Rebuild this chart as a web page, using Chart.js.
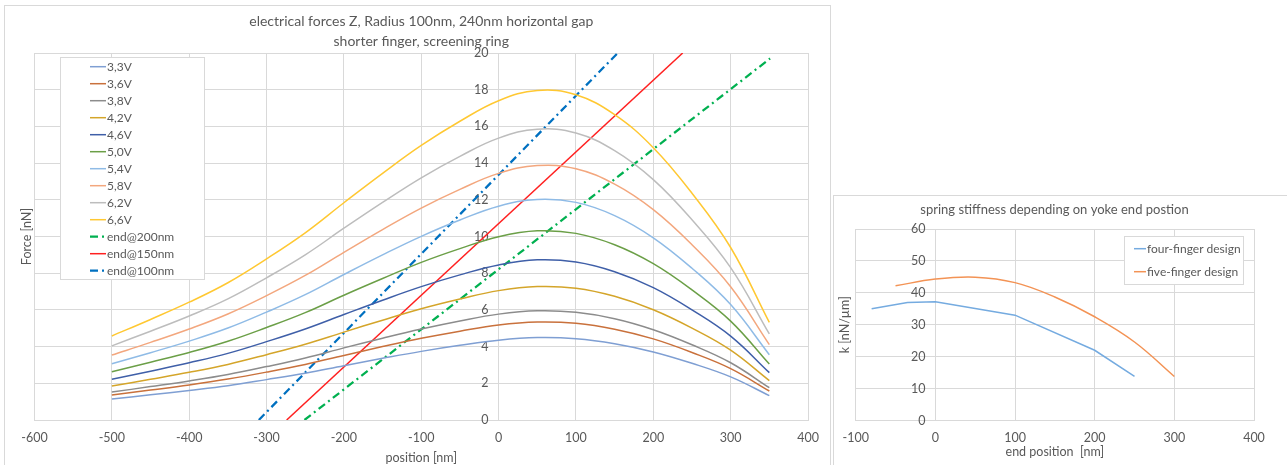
<!DOCTYPE html>
<html>
<head>
<meta charset="utf-8">
<script src="https://cdn.jsdelivr.net/npm/chart.js@4.4.1/dist/chart.umd.min.js"></script>
<style>
  body { margin: 0; background: #fff; width: 1287px; height: 465px; overflow: hidden; position: relative; }
  #frame1 { position: absolute; left: 4px; top: 5px; width: 825px; height: 470px; border: 1px solid #d9d9d9; }
  #frame2 { position: absolute; left: 833px; top: 195px; width: 470px; height: 280px; border: 1px solid #d9d9d9; background: #fff; }
  #c1 { position: absolute; left: 0; top: 0; }
  #c2 { position: absolute; left: 833px; top: 195px; }
</style>
</head>
<body>
<div id="frame1"></div>
<div id="frame2"></div>
<canvas id="c1" width="831" height="465"></canvas>
<canvas id="c2" width="454" height="270"></canvas>
<script>
// left chart: force vs position
const positions = [-500, -450, -400, -350, -300, -250, -200, -150, -100, -50, 0, 50, 100, 150, 200, 250, 300, 350];
const voltageLabels = ['3,3V', '3,6V', '3,8V', '4,2V', '4,6V', '5,0V', '5,4V', '5,8V', '6,2V', '6,6V'];
const force33 = [1.15, 1.37, 1.61, 1.87, 2.20, 2.55, 2.96, 3.36, 3.74, 4.07, 4.35, 4.49, 4.43, 4.16, 3.71, 3.09, 2.35, 1.33];
const force36 = [1.36, 1.63, 1.91, 2.23, 2.61, 3.03, 3.52, 4.00, 4.45, 4.84, 5.18, 5.34, 5.27, 4.95, 4.42, 3.68, 2.80, 1.58];
const force38 = [1.52, 1.82, 2.13, 2.48, 2.91, 3.38, 3.93, 4.46, 4.96, 5.40, 5.77, 5.95, 5.87, 5.52, 4.92, 4.10, 3.12, 1.76];
const force42 = [1.85, 2.22, 2.60, 3.03, 3.56, 4.13, 4.79, 5.44, 6.06, 6.59, 7.05, 7.27, 7.18, 6.74, 6.01, 5.01, 3.81, 2.15];
const force46 = [2.22, 2.66, 3.12, 3.63, 4.27, 4.96, 5.75, 6.53, 7.27, 7.91, 8.45, 8.73, 8.61, 8.08, 7.21, 6.00, 4.57, 2.58];
const force50 = [2.63, 3.15, 3.68, 4.29, 5.04, 5.85, 6.80, 7.71, 8.59, 9.34, 9.99, 10.31, 10.17, 9.55, 8.52, 7.09, 5.39, 3.05];
const force54 = [3.07, 3.67, 4.30, 5.01, 5.88, 6.83, 7.93, 9.00, 10.01, 10.90, 11.65, 12.02, 11.86, 11.14, 9.93, 8.27, 6.29, 3.56];
const force58 = [3.54, 4.23, 4.96, 5.78, 6.78, 7.88, 9.14, 10.38, 11.55, 12.57, 13.44, 13.87, 13.69, 12.85, 11.46, 9.55, 7.26, 4.11];
const force62 = [4.04, 4.84, 5.67, 6.60, 7.75, 9.00, 10.45, 11.86, 13.20, 14.37, 15.36, 15.85, 15.64, 14.68, 13.10, 10.91, 8.30, 4.69];
const force66 = [4.58, 5.48, 6.42, 7.48, 8.78, 10.20, 11.84, 13.44, 14.96, 16.28, 17.40, 17.96, 17.72, 16.64, 14.84, 12.36, 9.40, 5.32];
const forceSeries = [force33, force36, force38, force42, force46, force50, force54, force58, force62, force66];

// spring force lines (two end points each)
const endLabels = ['end@200nm', 'end@150nm', 'end@100nm'];
const end200X = [-251, 351];
const end200Y = [0, 19.7];
const end150X = [-274, 238];
const end150Y = [0, 20];
const end100X = [-310, 154];
const end100Y = [0, 20];

// right chart: stiffness vs end position
const stiffLabels = ['four-finger design', 'five-finger design'];
const fourX = [-80, -35, 0, 100, 200, 250];
const fourK = [35, 37, 37.2, 33, 22, 13.8];
const fiveX = [-50, 0, 50, 100, 150, 200, 250, 300];
const fiveK = [42.2, 44.3, 44.9, 43.2, 38.7, 32.5, 24.6, 13.8];

const voltageColors = ['#7f9fd3', '#c9713c', '#8c8c8c', '#d4a52a', '#3f5fa8', '#6b9f47', '#8fbbe6', '#f3a77e', '#bdbdbd', '#ffc832'];
const textColor = '#595959';
const gridColor = '#d9d9d9';
const fontFamily = 'Lato, "Liberation Sans", sans-serif';

function pts(xs, ys) {
  return xs.map((x, i) => ({ x: x, y: ys[i] }));
}

// legend drawn in a white bordered box
const boxLegend = {
  id: 'boxLegend',
  afterDatasetsDraw(chart, args, o) {
    const ctx = chart.ctx;
    ctx.save();
    ctx.fillStyle = '#fff';
    ctx.fillRect(o.x, o.y, o.w, o.h);
    ctx.strokeStyle = gridColor;
    ctx.lineWidth = 1;
    ctx.strokeRect(o.x + 0.5, o.y + 0.5, o.w, o.h);
    ctx.font = '12px ' + fontFamily;
    ctx.textBaseline = 'middle';
    chart.data.datasets.forEach((ds, i) => {
      const y = o.firstY + i * o.rowGap;
      ctx.strokeStyle = ds.borderColor;
      ctx.lineWidth = ds.borderWidth;
      ctx.setLineDash(ds.borderDash || []);
      ctx.beginPath();
      ctx.moveTo(o.lineX, y);
      ctx.lineTo(o.lineX + o.lineLen, y);
      ctx.stroke();
      ctx.setLineDash([]);
      ctx.fillStyle = textColor;
      ctx.fillText(ds.label, o.lineX + o.lineLen + 1, y);
    });
    ctx.restore();
  }
};

// rotated y-axis title at a fixed x
const sideTitle = {
  id: 'sideTitle',
  afterDraw(chart, args, o) {
    const ctx = chart.ctx;
    const a = chart.chartArea;
    ctx.save();
    ctx.translate(o.x, (a.top + a.bottom) / 2);
    ctx.rotate(-Math.PI / 2);
    ctx.font = '12.5px ' + fontFamily;
    ctx.fillStyle = textColor;
    ctx.textAlign = 'center';
    ctx.textBaseline = 'middle';
    ctx.fillText(o.text, 0, 0);
    ctx.restore();
  }
};

const datasets1 = voltageLabels.map((lab, i) => ({
  label: lab,
  data: pts(positions, forceSeries[i]),
  borderColor: voltageColors[i],
  borderWidth: 1.5,
  pointRadius: 0,
  tension: 0.4
}));
datasets1.push(
  { label: endLabels[0], data: pts(end200X, end200Y), borderColor: '#00b050', borderWidth: 2.25, borderDash: [8, 4, 2, 4], pointRadius: 0 },
  { label: endLabels[1], data: pts(end150X, end150Y), borderColor: '#ff2020', borderWidth: 1.5, pointRadius: 0 },
  { label: endLabels[2], data: pts(end100X, end100Y), borderColor: '#0070c0', borderWidth: 2.25, borderDash: [8, 4, 2, 4], pointRadius: 0 }
);

new Chart(document.getElementById('c1'), {
  type: 'line',
  data: { datasets: datasets1 },
  plugins: [boxLegend, sideTitle],
  options: {
    responsive: false,
    animation: false,
    layout: { padding: { left: 34.5, right: 23, top: 5, bottom: 0 } },
    plugins: {
      legend: { display: false },
      tooltip: { enabled: false },
      title: {
        display: true,
        text: ['electrical forces Z, Radius 100nm, 240nm horizontal gap', 'shorter finger, screening ring'],
        color: textColor,
        font: { family: fontFamily, size: 14, weight: 'normal', lineHeight: '20px' },
        padding: { top: 6, bottom: 2 }
      },
      boxLegend: { x: 60, y: 57, w: 144, h: 222, firstY: 66.7, rowGap: 17, lineX: 90, lineLen: 16 },
      sideTitle: { x: 27, text: 'Force [nN]' }
    },
    scales: {
      x: {
        type: 'linear',
        min: -600, max: 400,
        ticks: { stepSize: 100, color: textColor, font: { family: fontFamily, size: 12.5 }, padding: 10 },
        grid: { color: gridColor, drawTicks: false },
        border: { color: gridColor },
        title: { display: true, text: 'position [nm]', color: textColor, font: { family: fontFamily, size: 12.5 }, padding: { top: -5, bottom: 0 } }
      },
      y: {
        position: { x: -13 },
        min: 0, max: 20,
        ticks: { stepSize: 2, color: textColor, font: { family: fontFamily, size: 12.5 } },
        grid: { color: gridColor, drawTicks: false },
        border: { display: false }
      }
    }
  }
});

new Chart(document.getElementById('c2'), {
  type: 'line',
  data: {
    datasets: [
      { label: stiffLabels[0], data: pts(fourX, fourK), borderColor: '#75abe0', borderWidth: 1.5, pointRadius: 0, tension: 0 },
      { label: stiffLabels[1], data: pts(fiveX, fiveK), borderColor: '#f39355', borderWidth: 1.5, pointRadius: 0, tension: 0.4 }
    ]
  },
  plugins: [boxLegend, sideTitle],
  options: {
    responsive: false,
    animation: false,
    layout: { padding: { left: 22, right: 33, top: 0, bottom: 5.5 } },
    plugins: {
      legend: { display: false },
      tooltip: { enabled: false },
      title: {
        display: true,
        text: 'spring stiffness depending on yoke end postion',
        color: textColor,
        font: { family: fontFamily, size: 13, weight: 'normal', lineHeight: '20px' },
        padding: { top: 5, bottom: 9 }
      },
      boxLegend: { x: 291, y: 41, w: 119, h: 48, firstY: 53.7, rowGap: 23, lineX: 301, lineLen: 12 },
      sideTitle: { x: 12, text: 'k [nN/µm]' }
    },
    scales: {
      x: {
        type: 'linear',
        min: -100, max: 400,
        ticks: { stepSize: 100, color: textColor, font: { family: fontFamily, size: 12.5 }, padding: 9.5 },
        grid: { color: gridColor, drawTicks: false },
        border: { color: gridColor },
        title: { display: true, text: 'end position  [nm]', color: textColor, font: { family: fontFamily, size: 12.5 }, padding: { top: -10, bottom: 0 } }
      },
      y: {
        position: { x: -12.5 },
        min: 0, max: 60,
        ticks: { stepSize: 10, color: textColor, font: { family: fontFamily, size: 12.5 } },
        grid: { color: gridColor, drawTicks: false },
        border: { display: false }
      }
    }
  }
});
</script>
</body>
</html>
